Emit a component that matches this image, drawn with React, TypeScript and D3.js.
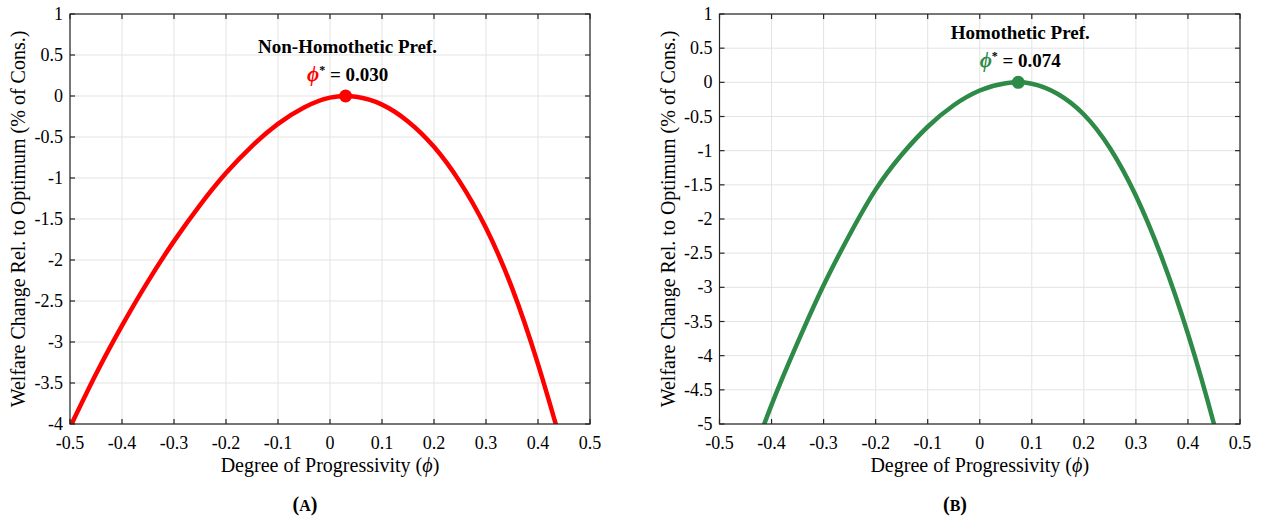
import React from "react";
import * as d3 from "d3";

// ---------- data ----------
const phiA = [-0.5, -0.45, -0.4, -0.35, -0.3, -0.25, -0.2, -0.15, -0.1, -0.05, 0.0, 0.05, 0.1, 0.15, 0.2, 0.25, 0.3, 0.35, 0.4, 0.45];
const welfareA = [-4.04, -3.39, -2.8, -2.26, -1.77, -1.33, -0.94, -0.61, -0.34, -0.14, -0.02, -0.01, -0.105, -0.31, -0.62, -1.05, -1.61, -2.34, -3.27, -4.35];

const phiB = [-0.45, -0.4, -0.35, -0.3, -0.25, -0.2, -0.15, -0.1, -0.05, 0.0, 0.05, 0.1, 0.15, 0.2, 0.25, 0.3, 0.35, 0.4, 0.45, 0.5];
const welfareB = [-5.75, -4.72, -3.81, -2.97, -2.23, -1.57, -1.06, -0.65, -0.335, -0.12, -0.012, -0.02, -0.17, -0.47, -0.96, -1.66, -2.57, -3.68, -5.0, -6.5];

const optimumA = 0.03;
const optimumB = 0.074;
const optimumLabelA = "0.030";
const optimumLabelB = "0.074";
const titleA = "Non-Homothetic Pref.";
const titleB = "Homothetic Pref.";
const captionA = "A";
const captionB = "B";

const xTicks = [-0.5, -0.4, -0.3, -0.2, -0.1, 0, 0.1, 0.2, 0.3, 0.4, 0.5];
const yTicksA = [1, 0.5, 0, -0.5, -1, -1.5, -2, -2.5, -3, -3.5, -4];
const yTicksB = [1, 0.5, 0, -0.5, -1, -1.5, -2, -2.5, -3, -3.5, -4, -4.5, -5];

const xLabel = "Degree of Progressivity (";
const yLabel = "Welfare Change Rel. to Optimum (% of Cons.)";

// ---------- layout / style ----------
const W = 1265;
const H = 518;
const TOP = 14;
const BOTTOM = 424;
const FONT = "'Liberation Serif', 'Times New Roman', 'DejaVu Serif', serif";
const AXIS_COLOR = "#262626";
const GRID_COLOR = "#e3e3e3";
const TICK_LEN = 5;

type PanelProps = {
  id: string;
  phi: number[];
  welfare: number[];
  yTicks: number[];
  optimum: number;
  optimumLabel: string;
  title: string;
  caption: string;
  color: string;
  left: number;
  right: number;
  captionX: number;
};

function Panel(p: PanelProps) {
  const yMin = d3.min(p.yTicks) as number;
  const yMax = d3.max(p.yTicks) as number;
  const x = d3.scaleLinear().domain([-0.5, 0.5]).range([p.left, p.right]);
  const y = d3.scaleLinear().domain([yMin, yMax]).range([BOTTOM, TOP]);
  const pts: [number, number][] = p.phi.map((v, i) => [v, p.welfare[i]]);
  const line = d3
    .line<[number, number]>()
    .x((d) => x(d[0]))
    .y((d) => y(d[1]))
    .curve(d3.curveNatural);
  const cx = x(p.optimum);
  const cy = y(0);
  const midX = (p.left + p.right) / 2;
  const midY = (TOP + BOTTOM) / 2;

  return (
    <g fontFamily={FONT}>
      <defs>
        <clipPath id={`clip-${p.id}`}>
          <rect x={p.left} y={TOP} width={p.right - p.left} height={BOTTOM - TOP} />
        </clipPath>
      </defs>
      {/* grid */}
      {xTicks.map((t) => (
        <line key={`gx${t}`} x1={x(t)} x2={x(t)} y1={TOP} y2={BOTTOM} stroke={GRID_COLOR} strokeWidth={1} />
      ))}
      {p.yTicks.map((t) => (
        <line key={`gy${t}`} x1={p.left} x2={p.right} y1={y(t)} y2={y(t)} stroke={GRID_COLOR} strokeWidth={1} />
      ))}
      {/* curve */}
      <path d={line(pts) || ""} fill="none" stroke={p.color} strokeWidth={4.5} clipPath={`url(#clip-${p.id})`} />
      <circle cx={cx} cy={cy} r={6.5} fill={p.color} />
      {/* box */}
      <rect x={p.left} y={TOP} width={p.right - p.left} height={BOTTOM - TOP} fill="none" stroke={AXIS_COLOR} strokeWidth={1.2} />
      {/* ticks inward on all sides */}
      {xTicks.map((t) => (
        <g key={`tx${t}`}>
          <line x1={x(t)} x2={x(t)} y1={BOTTOM} y2={BOTTOM - TICK_LEN} stroke={AXIS_COLOR} strokeWidth={1.2} />
          <line x1={x(t)} x2={x(t)} y1={TOP} y2={TOP + TICK_LEN} stroke={AXIS_COLOR} strokeWidth={1.2} />
          <text x={x(t)} y={449} textAnchor="middle" fontSize={18} fill="#000">
            {String(t)}
          </text>
        </g>
      ))}
      {p.yTicks.map((t) => (
        <g key={`ty${t}`}>
          <line x1={p.left} x2={p.left + TICK_LEN} y1={y(t)} y2={y(t)} stroke={AXIS_COLOR} strokeWidth={1.2} />
          <line x1={p.right} x2={p.right - TICK_LEN} y1={y(t)} y2={y(t)} stroke={AXIS_COLOR} strokeWidth={1.2} />
          <text x={p.left - 7} y={y(t)} dy="0.34em" textAnchor="end" fontSize={18} fill="#000">
            {String(t)}
          </text>
        </g>
      ))}
      {/* axis labels */}
      <text x={midX} y={472} textAnchor="middle" fontSize={20} fill="#000">
        {xLabel}
        <tspan fontStyle="italic">ϕ</tspan>
        {")"}
      </text>
      <text
        transform={`translate(${p.left - 45},${midY}) rotate(-90)`}
        textAnchor="middle"
        fontSize={20}
        fill="#000"
      >
        {yLabel}
      </text>
      {/* annotation */}
      <text x={cx + 2} y={cy - 43} textAnchor="middle" fontSize={19} fontWeight="bold" fill="#000">
        {p.title}
      </text>
      <text x={cx + 2} y={cy - 15} textAnchor="middle" fontSize={19} fontWeight="bold" fill="#000">
        <tspan fill={p.color} fontStyle="italic" fontSize={21}>ϕ</tspan>
        <tspan fontSize={12} dy={-7}>*</tspan>
        <tspan dy={7}>{" = " + p.optimumLabel}</tspan>
      </text>
      {/* caption */}
      <text x={p.captionX} y={511} textAnchor="middle" fontSize={20} fontWeight="bold" fill="#000">
        {"("}
        <tspan fontSize={16}>{p.caption}</tspan>
        {")"}
      </text>
    </g>
  );
}

export default function App() {
  return (
    <svg
      width={W}
      height={H}
      viewBox={`0 0 ${W} ${H}`}
      style={{ position: "absolute", left: 0, top: 0, background: "#fff" }}
    >
      <rect x={0} y={0} width={W} height={H} fill="#fff" />
      <Panel
        id="a"
        phi={phiA}
        welfare={welfareA}
        yTicks={yTicksA}
        optimum={optimumA}
        optimumLabel={optimumLabelA}
        title={titleA}
        caption={captionA}
        color="#ff0000"
        left={70}
        right={590}
        captionX={305}
      />
      <Panel
        id="b"
        phi={phiB}
        welfare={welfareB}
        yTicks={yTicksB}
        optimum={optimumB}
        optimumLabel={optimumLabelB}
        title={titleB}
        caption={captionB}
        color="#2e8b47"
        left={719.5}
        right={1240}
        captionX={955}
      />
    </svg>
  );
}
